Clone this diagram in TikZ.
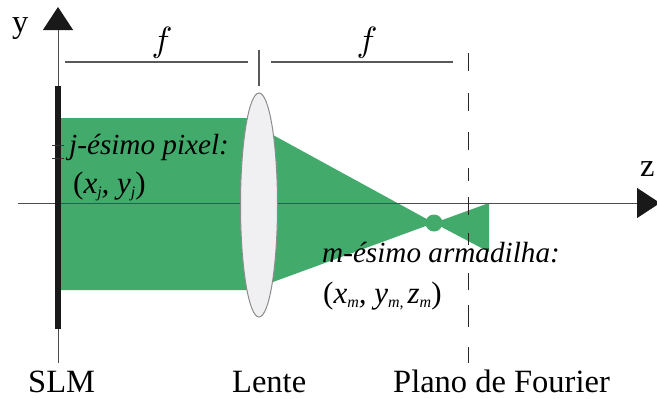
\documentclass[tikz,border=0pt]{standalone}
\usepackage{fontspec}
\setmainfont{Liberation Serif}
\usepackage{xcolor}
\definecolor{beam}{RGB}{66,170,107}
\definecolor{lensfill}{RGB}{240,240,242}
\usetikzlibrary{arrows.meta,shapes.geometric}
\newcommand{\lowidx}[1]{\raisebox{-0.16em}{\fontsize{16}{16}\selectfont #1}}
\tikzset{
  axisline/.style={draw=black!70, line width=1pt},
  guideline/.style={draw=black!65, line width=1.1pt},
  axistip/.tip={Triangle[length=23pt, width=30pt]},
  bigtext/.style={font=\fontsize{32.5}{38}\selectfont, anchor=base west, inner sep=0pt},
  midtext/.style={font=\fontsize{29.2}{34}\selectfont\itshape, anchor=base west, inner sep=0pt},
  postext/.style={font=\fontsize{31}{36}\selectfont\itshape, anchor=base west, inner sep=0pt},
  focaltext/.style={inner sep=0pt, scale=3.5},
}
\begin{document}
\begin{tikzpicture}[x=1pt, y=-1pt]
\useasboundingbox (0,0) rectangle (657,399);
% beam
\fill[beam] (61,118) -- (250,118) -- (250,135) -- (273,135) -- (434,223) -- (489,252) -- (489,203) -- (434,223) -- (273,282) -- (250,290) -- (61,290) -- cycle;
\fill[beam] (434,223) circle (8.5);
% axes
\coordinate (zstart) at (18,203);
\coordinate (zend) at (660,203);
\coordinate (ystart) at (58,363);
\coordinate (yend) at (58,7);
\draw[axisline, -{axistip[black!90]}] (zstart) -- (zend);
\draw[axisline, -{axistip[black!90]}] (ystart) -- (yend);
% SLM
\fill[black!90] (55,86) rectangle (61,329);
\draw[black!80, line width=0.9pt] (52,145) -- (64,145);
\draw[black!80, line width=0.9pt] (52,158) -- (64,158);
% lens
\node[ellipse, draw=black!45, fill=lensfill, line width=1pt, minimum width=37pt, minimum height=224pt, inner sep=0pt] (lens) at (259,205) {};
% f marks
\draw[guideline] (65,62) -- (248,62);
\draw[guideline] (271,62) -- (453,62);
\draw[guideline] (259,50) -- (259,86);
% Fourier plane
\foreach \ya/\yb in {53/71, 93/111, 132/150, 168/181, 197/215, 233/245, 273/290, 305/327, 347/363}
  \draw[black!85, line width=0.9pt] (468,\ya) -- (468,\yb);
% labels
\node[bigtext] (ylabel) at (12,32) {y};
\node[bigtext] (zlabel) at (640,176) {z};
\node[focaltext] (fleft) at (162,43) {$f$};
\node[focaltext] (fright) at (367,43) {$f$};
\node[midtext] (pixel) at (69,154) {j-ésimo pixel:};
\node[postext] (pixelpos) at (73,193) {\upshape(\itshape x\lowidx{j}, y\lowidx{j}\upshape)};
\node[midtext] (trap) at (322,262) {m-ésimo armadilha:};
\node[postext] (trappos) at (323,303) {\upshape(\itshape x\lowidx{m}, y\lowidx{m, }z\lowidx{m}\upshape)};
\node[bigtext] (slm) at (28,392) {SLM};
\node[bigtext] (lente) at (232,392) {Lente};
\node[bigtext] (plano) at (393,392) {Plano de Fourier};
\end{tikzpicture}
\end{document}
